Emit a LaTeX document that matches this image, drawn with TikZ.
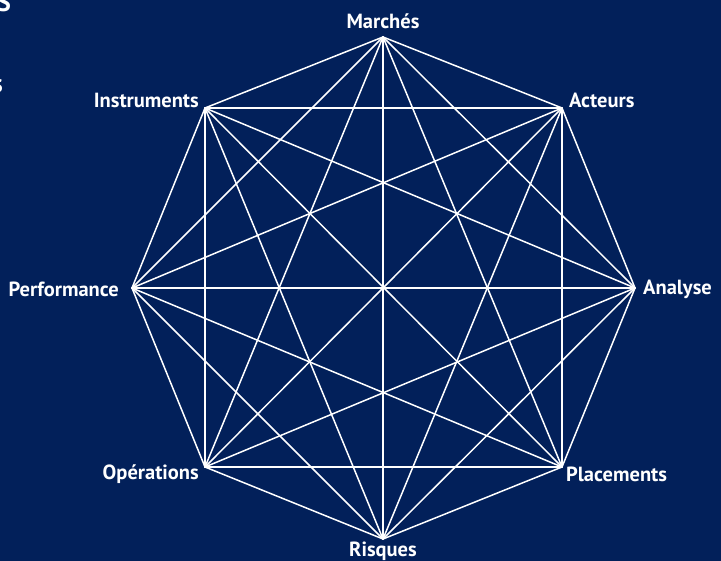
\documentclass[tikz,border=0pt]{standalone}
\usepackage{fontspec}
\setmainfont{PT Sans}
\definecolor{navy}{RGB}{2,32,90}
\begin{document}
\begin{tikzpicture}[x=1pt,y=-1pt,
  lbl/.style={text=white,font=\bfseries\fontsize{20.5}{24}\selectfont,inner sep=0pt},
  edge/.style={white,line width=1.5pt},
  frag/.style={text=white,font=\bfseries\fontsize{26}{30}\selectfont,inner sep=0pt}]
\fill[navy] (0,0) rectangle (721,561);
\useasboundingbox (0,0) rectangle (721,561);
\begin{scope}
\clip (0,0) rectangle (721,561);
\node[frag,anchor=base west] (f1) at (-3,12) {S};
\node[frag,anchor=base east] (f2) at (3,93) {s};
\end{scope}
\coordinate (v1) at (383,37);
\coordinate (v2) at (562,108);
\coordinate (v3) at (635,288);
\coordinate (v4) at (562,467);
\coordinate (v5) at (383,539);
\coordinate (v6) at (205,467);
\coordinate (v7) at (132,288);
\coordinate (v8) at (205,108);
\foreach \i in {1,...,7}{
  \pgfmathtruncatemacro\s{\i+1}
  \foreach \j in {\s,...,8}{\draw[edge,line cap=round] (v\i) -- (v\j);}
}
\node[lbl,anchor=south] (marches) at (383,29) {Marchés};
\node[lbl,anchor=west] (acteurs) at (569,100) {Acteurs};
\node[lbl,anchor=west] (analyse) at (643,289) {Analyse};
\node[lbl,anchor=west] (placements) at (566,474) {Placements};
\node[lbl,anchor=north] (risques) at (383,542) {Risques};
\node[lbl,anchor=east] (operations) at (199,474) {Opérations};
\node[lbl,anchor=east] (performance) at (119,289) {Performance};
\node[lbl,anchor=east] (instruments) at (199,100) {Instruments};
\end{tikzpicture}
\end{document}
